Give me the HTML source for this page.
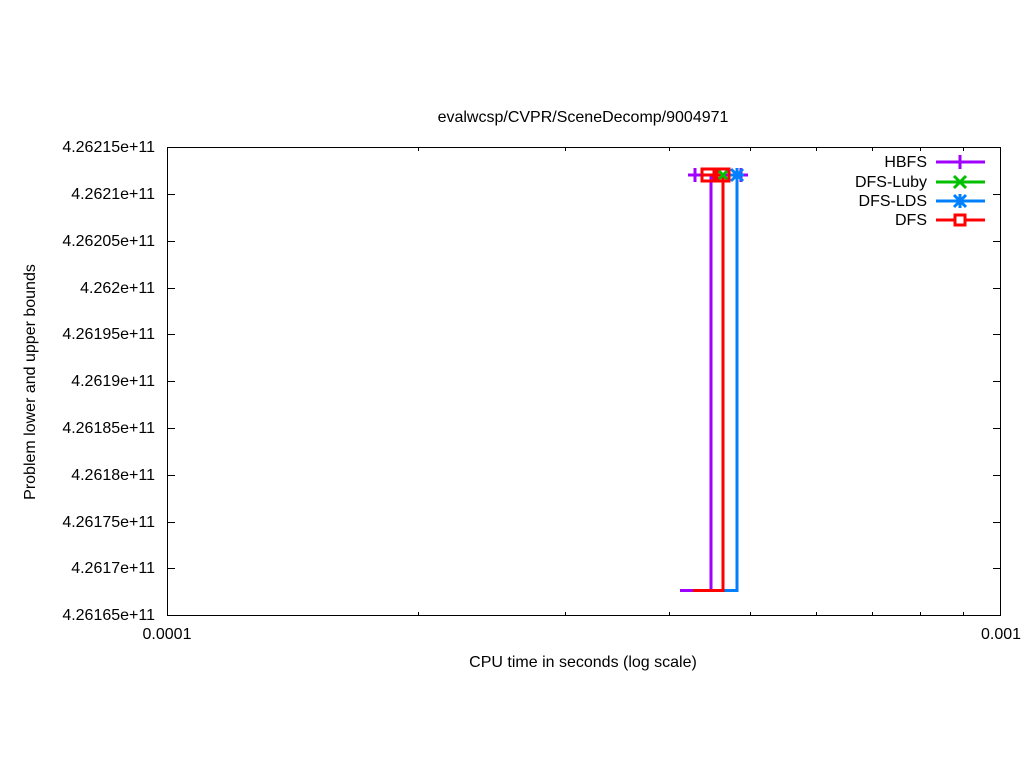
<!DOCTYPE html><html><head><style>body{margin:0;background:#fff}svg{display:block}text{font-family:"Liberation Sans",sans-serif;font-size:16px;fill:#000}</style></head><body>
<svg width="1024" height="768" viewBox="0 0 1024 768">
<text x="583" y="122" text-anchor="middle">evalwcsp/CVPR/SceneDecomp/9004971</text>
<rect x="167.5" y="147.5" width="833" height="468" fill="none" stroke="#000" stroke-width="1"/>
<g stroke="#000" stroke-width="1">
<path d="M167 194.5h8M1001 194.5h-8M167 241.5h8M1001 241.5h-8M167 288.5h8M1001 288.5h-8M167 334.5h8M1001 334.5h-8M167 381.5h8M1001 381.5h-8M167 428.5h8M1001 428.5h-8M167 475.5h8M1001 475.5h-8M167 522.5h8M1001 522.5h-8M167 568.5h8M1001 568.5h-8"/>
<path d="M418.5 616v-4M418.5 147v4M565.5 616v-4M565.5 147v4M669.5 616v-4M669.5 147v4M750.5 616v-4M750.5 147v4M816.5 616v-4M816.5 147v4M872.5 616v-4M872.5 147v4M920.5 616v-4M920.5 147v4M963.5 616v-4M963.5 147v4M167.5 616v-8M167.5 147v8M1000.5 616v-8M1000.5 147v8"/>
</g>
<g text-anchor="end">
<text x="155" y="152">4.26215e+11</text><text x="155" y="199">4.2621e+11</text><text x="155" y="246">4.26205e+11</text><text x="155" y="293">4.262e+11</text><text x="155" y="339">4.26195e+11</text><text x="155" y="386">4.2619e+11</text><text x="155" y="433">4.26185e+11</text><text x="155" y="480">4.2618e+11</text><text x="155" y="527">4.26175e+11</text><text x="155" y="573">4.2617e+11</text><text x="155" y="620">4.26165e+11</text>
</g>
<text x="167" y="639" text-anchor="middle">0.0001</text>
<text x="1001" y="639" text-anchor="middle">0.001</text>
<text x="583" y="667" text-anchor="middle">CPU time in seconds (log scale)</text>
<text transform="translate(35,382) rotate(-90)" text-anchor="middle">Problem lower and upper bounds</text>
<g fill="none" stroke-width="3">
<path d="M680 590.5H711V175H741" stroke="#a000ff"/>
<path d="M737 175V590.5" stroke="#00c000"/>
<path d="M723 590.5H737V175" stroke="#0080ff"/>
<path d="M693 590.5H723V175H703" stroke="#ff0000"/>
</g>
<g stroke-width="3" fill="none">
<path d="M688 175h14M695 168v14M734 175h14M741 168v14" stroke="#a000ff"/>
<path d="M717 169l12 12M729 169l-12 12" stroke="#00c000"/>
<path d="M730 175h14M737 168v14M731 169l12 12M743 169l-12 12" stroke="#0080ff"/>
<rect x="702" y="169" width="12" height="12" stroke="#ff0000"/>
<rect x="717" y="169" width="12" height="12" stroke="#ff0000"/>
</g>
<g text-anchor="end">
<text x="927" y="167">HBFS</text><text x="927" y="187">DFS-Luby</text><text x="927" y="206">DFS-LDS</text><text x="927" y="225">DFS</text>
</g>
<g stroke-width="3">
<path d="M936 162h49" stroke="#a000ff"/><path d="M936 182h49" stroke="#00c000"/><path d="M936 201h49" stroke="#0080ff"/><path d="M936 220h49" stroke="#ff0000"/>
</g>
<g stroke-width="3" fill="none">
<path d="M953 162h14M960 155v14" stroke="#a000ff"/>
<path d="M954 176l12 12M966 176l-12 12" stroke="#00c000"/>
<path d="M953 201h14M960 194v14M954 195l12 12M966 195l-12 12" stroke="#0080ff"/>
<rect x="955" y="215" width="10" height="10" stroke="#ff0000" fill="#fff"/>
</g>
</svg></body></html>
